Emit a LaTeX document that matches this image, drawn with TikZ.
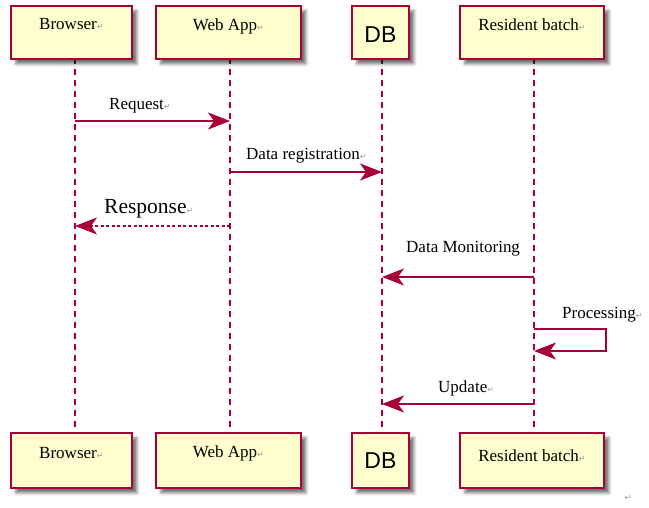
\documentclass[tikz,border=0pt]{standalone}
\usepackage{fontspec}
\setmainfont{Liberation Serif}
\newfontfamily\dbfont{Liberation Sans}
\newfontfamily\markfont{DejaVu Sans}
\usetikzlibrary{arrows.meta,shadows.blur}
\definecolor{umlred}{HTML}{A80036}
\definecolor{umlfill}{HTML}{FEFECE}
\newcommand{\pmark}{{\markfont\fontsize{8}{8}\selectfont\color{gray!80}↵}}

\tikzset{
  actor/.style={rectangle, draw=umlred, fill=umlfill, line width=1.8pt, inner sep=0pt,
    anchor=north west, font=\fontsize{17}{20}\selectfont,
    blur shadow={shadow xshift=5pt, shadow yshift=-5pt, shadow blur radius=3pt, shadow opacity=55}},
  dbactor/.style={actor, font=\dbfont\fontsize{23}{25}\selectfont},
  lifeline/.style={umlred, line width=1.4pt, dash pattern=on 6pt off 5pt},
  msg/.style={umlred, line width=1.4pt, -{Stealth[length=22pt,width=17pt,inset=6pt]}},
  reply/.style={msg, dash pattern=on 3pt off 2.5pt},
  msglabel/.style={anchor=base west, inner sep=0pt, font=\fontsize{17}{20}\selectfont},
}

\begin{document}
\begin{tikzpicture}[x=1pt, y=-1pt]
  \useasboundingbox (0,0) rectangle (649,508);

  % lifelines
  \coordinate (brX) at (75,58);
  \coordinate (waX) at (230,58);
  \coordinate (dbX) at (382,58);
  \coordinate (rbX) at (534,58);
  \draw[lifeline] (brX) -- (brX |- 0,432);
  \draw[lifeline] (waX) -- (waX |- 0,432);
  \draw[lifeline] (dbX) -- (dbX |- 0,432);
  \draw[lifeline] (rbX) -- (rbX |- 0,432);

  % participants, top
  \node[actor, minimum width=121pt, text height=24pt, text depth=29pt] (browserTop) at (10,5) {Browser\pmark};
  \node[actor, minimum width=145pt, text height=25pt, text depth=28pt] (webTop) at (155,5) {Web App\pmark};
  \node[dbactor, minimum width=57pt, text height=37pt, text depth=16pt] (dbTop) at (351,5) {DB};
  \node[actor, minimum width=144pt, text height=25pt, text depth=28pt] (batchTop) at (459,5) {Resident batch\pmark};

  % participants, bottom
  \node[actor, minimum width=121pt, text height=26pt, text depth=29pt] (browserBot) at (10,432) {Browser\pmark};
  \node[actor, minimum width=145pt, text height=25pt, text depth=30pt] (webBot) at (155,432) {Web App\pmark};
  \node[dbactor, minimum width=57pt, text height=36pt, text depth=19pt] (dbBot) at (351,432) {DB};
  \node[actor, minimum width=144pt, text height=29pt, text depth=26pt] (batchBot) at (459,432) {Resident batch\pmark};

  % messages
  \draw[msg] (brX |- 0,121) -- (waX |- 0,121);
  \node[msglabel] (lblRequest) at (109,110) {Request\pmark};

  \draw[msg] (waX |- 0,172) -- (dbX |- 0,172);
  \node[msglabel] (lblRegister) at (246,160) {Data registration\pmark};

  \draw[reply] (waX |- 0,226) -- (brX |- 0,226);
  \node[msglabel, font=\fontsize{21.5}{24}\selectfont] (lblResponse) at (104,214) {Response\pmark};

  \draw[msg] (rbX |- 0,277) -- (dbX |- 0,277);
  \node[msglabel] (lblMonitor) at (406,253) {Data Monitoring};

  \draw[msg] (rbX |- 0,329) -- ++(72,0) -- ++(0,22) -- (rbX |- 0,351);
  \node[msglabel] (lblProcess) at (562,319) {Processing\pmark};

  \draw[msg] (rbX |- 0,404) -- (dbX |- 0,404);
  \node[msglabel] (lblUpdate) at (438,392) {Update\pmark};

  \node[inner sep=0pt] (endMark) at (628,498) {\pmark};
\end{tikzpicture}
\end{document}
